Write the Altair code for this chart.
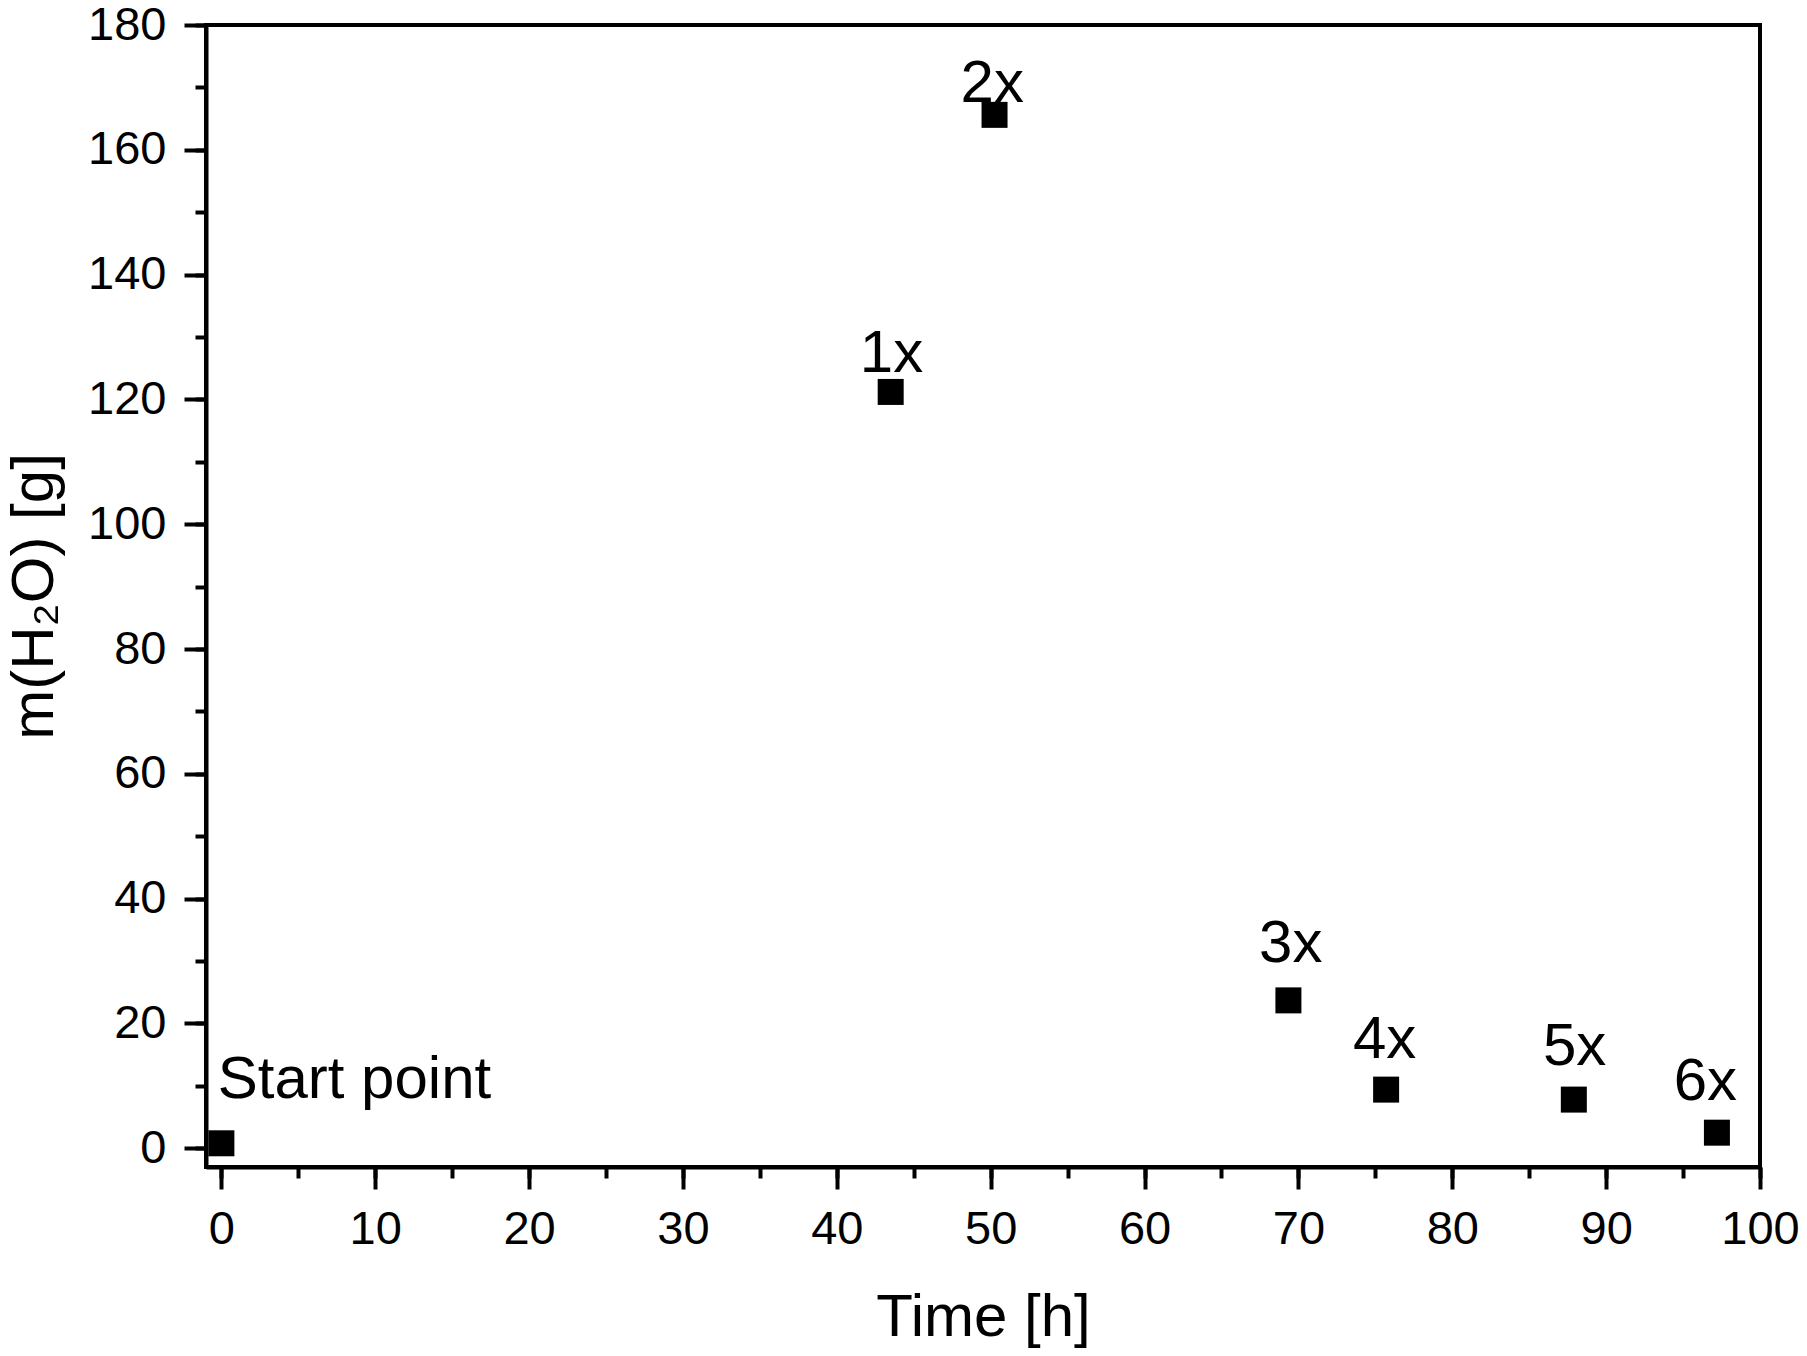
import altair as alt
import pandas as pd

# Data
labels = ["Start point", "1x", "2x", "3x", "4x", "5x", "6x"]
time_h = [0.0, 43.5, 50.25, 69.35, 75.7, 87.9, 97.2]
water_g = [0.8, 121.2, 165.6, 23.7, 9.4, 7.8, 2.5]
# annotation anchor (text centre / baseline) in data units
label_x = [8.65, 43.55, 50.1, 69.5, 75.6, 87.95, 96.45]
label_y = [8.0, 124.4, 167.7, 29.9, 14.4, 13.3, 7.7]

major_x = list(range(0, 101, 10))
minor_x = list(range(0, 101, 5))
major_y = list(range(0, 181, 20))
minor_y = list(range(0, 181, 10))

df = pd.DataFrame({"t": time_h, "m": water_g, "label": labels,
                   "lx": label_x, "ly": label_y})

FONT = "Liberation Sans"
xscale = alt.Scale(domain=[-1, 100], nice=False, zero=False)
yscale = alt.Scale(domain=[-3, 180], nice=False, zero=False)

points = alt.Chart(df).mark_square(size=676, color="black", opacity=1, filled=True).encode(
    x=alt.X("t:Q", scale=xscale,
            axis=alt.Axis(values=major_x, tickSize=22, labelPadding=17, labelFontSize=47,
                          title="Time [h]", titleFontSize=60, titleY=168,
                          titleBaseline="alphabetic", grid=False, orient="bottom",
                          labelFlush=False, labelOverlap=False)),
    y=alt.Y("m:Q", scale=yscale,
            axis=alt.Axis(values=major_y, tickSize=22, labelPadding=18, labelFontSize=47,
                          title="m(H₂O) [g]", titleFontSize=60, titleX=-154, titleY=571,
                          titleAngle=-90, titleBaseline="alphabetic", titleAlign="center",
                          grid=False, orient="left", labelFlush=False, labelOverlap=False)),
)

texts = alt.Chart(df).mark_text(font=FONT, fontSize=60, color="black", align="center",
                                baseline="alphabetic").encode(
    x=alt.X("lx:Q", scale=xscale,
            axis=alt.Axis(values=minor_x, tickSize=11, labels=False, domain=False,
                          title="", grid=False, orient="bottom")),
    y=alt.Y("ly:Q", scale=yscale,
            axis=alt.Axis(values=minor_y, tickSize=11, labels=False, domain=False,
                          title="", grid=False, orient="left")),
    text="label:N",
)

chart = alt.layer(points, texts).resolve_axis(x="independent", y="independent").properties(
    width=1554, height=1142,
    autosize=alt.AutoSizeParams(type="none"),
    padding={"left": 198, "top": 17, "right": 39, "bottom": 181},
    background="white",
).configure_view(stroke="black", strokeWidth=4).configure_axis(
    domainColor="black", domainWidth=4, tickColor="black", tickWidth=4,
    labelColor="black", titleColor="black", labelFont=FONT, titleFont=FONT,
    titleFontWeight="normal",
)

chart.save("out.html", embed_options={"renderer": "svg", "actions": False})
